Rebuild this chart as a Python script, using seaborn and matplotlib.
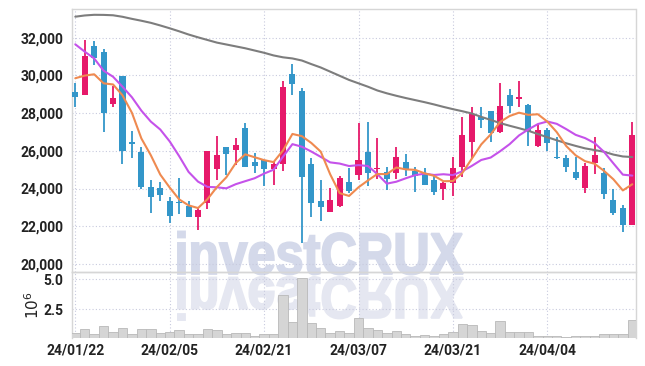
import numpy as np
import pandas as pd
import matplotlib
matplotlib.use("Agg")
import matplotlib.pyplot as plt
import seaborn as sns
from matplotlib.textpath import TextPath
from matplotlib.patches import PathPatch
from matplotlib.font_manager import FontProperties, fontManager
from matplotlib.transforms import Affine2D

# ---------------- data ----------------
dates = ["24/01/22", "24/01/23", "24/01/24", "24/01/25", "24/01/26", "24/01/29", "24/01/30", "24/01/31", "24/02/01", "24/02/02",
         "24/02/05", "24/02/06", "24/02/07", "24/02/08", "24/02/13", "24/02/14", "24/02/15", "24/02/16", "24/02/19", "24/02/20",
         "24/02/21", "24/02/22", "24/02/23", "24/02/26", "24/02/27", "24/02/28", "24/02/29", "24/03/04", "24/03/05", "24/03/06",
         "24/03/07", "24/03/08", "24/03/11", "24/03/12", "24/03/13", "24/03/14", "24/03/15", "24/03/18", "24/03/19", "24/03/20",
         "24/03/21", "24/03/22", "24/03/25", "24/03/26", "24/03/27", "24/03/28", "24/03/29", "24/04/01", "24/04/02", "24/04/03",
         "24/04/04", "24/04/05", "24/04/08", "24/04/09", "24/04/11", "24/04/12", "24/04/15", "24/04/16", "24/04/17", "24/04/18"]

opens = [29100, 28960, 31560, 31250, 28500, 29970, 26400, 25920, 24060, 24010,
         23340, 23260, 23070, 22510, 23220, 25020, 26200, 26040, 27210, 25390,
         25510, 25020, 25280, 30070, 29170, 25300, 23340, 22740, 23090, 24330,
         24720, 25920, 25020, 24860, 24810, 25410, 24930, 24810, 24450, 23970,
         24310, 25120, 26490, 27810, 28110, 26980, 28960, 28730, 28430, 26270,
         27100, 25630, 25600, 24860, 24050, 25370, 24810, 23390, 22990, 22080]
highs = [29580, 31900, 31850, 31380, 29440, 29970, 27070, 26180, 24450, 24360,
         23570, 24540, 23360, 23040, 26000, 26790, 26210, 26660, 27490, 25900,
         25520, 25420, 29720, 30590, 29310, 25600, 24450, 24010, 24680, 25070,
         27490, 27510, 26660, 25160, 26190, 25810, 25160, 25110, 24720, 24360,
         25690, 27780, 28340, 28340, 28120, 29580, 29260, 29720, 28480, 27400,
         27190, 26710, 25780, 25650, 25330, 26750, 25070, 23960, 23130, 27510]
lows = [28300, 28950, 30550, 27020, 28300, 25300, 25600, 23960, 22720, 23350,
        22150, 22650, 22500, 21800, 22900, 24450, 24720, 25250, 25150, 24800,
        24150, 24190, 24930, 28960, 21090, 22470, 22300, 22730, 23040, 23750,
        24450, 24150, 24490, 23920, 24490, 24660, 23800, 24180, 23660, 23390,
        23600, 24590, 25600, 27190, 26490, 26950, 28020, 28310, 26260, 26220,
        26010, 25590, 24890, 24450, 23780, 24750, 23430, 22600, 21710, 22070]
closes = [28870, 31030, 30900, 28020, 28780, 26000, 26380, 24100, 23570, 23650,
          22560, 23240, 22510, 22860, 25990, 25780, 25830, 26310, 25160, 25210,
          25020, 25300, 29400, 29540, 24630, 23210, 23000, 23390, 24540, 23890,
          25510, 24810, 25110, 24490, 25650, 25020, 24680, 24190, 23830, 24280,
          25070, 26840, 27950, 27630, 26930, 28380, 28400, 28840, 27050, 27100,
          26430, 25600, 25160, 24580, 25200, 25780, 23710, 22720, 22080, 26840]

ma5 = [29850, 29990, 30060, 29580, 29520, 28946, 28016, 26656, 25766, 24740,
       24052, 23424, 23106, 22964, 23432, 24076, 24594, 25354, 25814, 25658,
       25506, 25400, 26018, 26894, 26778, 26416, 25956, 24754, 23754, 23606,
       24066, 24428, 24772, 24762, 25114, 25016, 24990, 24806, 24674, 24386,
       24396, 24828, 25580, 26340, 26870, 27532, 27844, 28022, 27906, 27940,
       27550, 26990, 26254, 25760, 25448, 25316, 24938, 24488, 23898, 24226]
ma10 = [31650, 31260, 30900, 30250, 29930, 29400, 28840, 28130, 27550, 27130,
        26499, 25720, 24881, 24365, 24086, 24064, 24009, 24230, 24389, 24545,
        24791, 24997, 25686, 26354, 26218, 25961, 25678, 25386, 25324, 25192,
        25241, 25192, 24763, 24258, 24360, 24541, 24709, 24789, 24718, 24757,
        24713, 24916, 25200, 25514, 25642, 25978, 26350, 26815, 27137, 27419,
        27555, 27431, 27152, 26847, 26674, 26414, 25945, 25333, 24736, 24684]
ma60 = [33115, 33180, 33215, 33210, 33190, 33110, 33000, 32900, 32790, 32650,
        32500, 32340, 32170, 32020, 31880, 31740, 31640, 31540, 31440, 31320,
        31200, 31060, 30960, 30900, 30790, 30600, 30420, 30200, 29980, 29760,
        29580, 29400, 29200, 29050, 28920, 28800, 28690, 28580, 28460, 28330,
        28210, 28100, 27980, 27800, 27640, 27470, 27330, 27200, 27060, 26890,
        26720, 26560, 26400, 26260, 26130, 26040, 25950, 25800, 25700, 25670]

volume_m = [0.54, 0.93, 0.46, 1.18, 0.62, 1.01, 0.46, 0.93, 0.93, 0.54,
            0.62, 0.85, 0.46, 0.46, 0.93, 0.79, 0.46, 0.54, 0.54, 0.30,
            0.46, 0.46, 3.68, 1.45, 5.08, 1.37, 1.01, 0.57, 0.71, 0.54,
            1.76, 1.01, 0.79, 0.57, 0.71, 0.46, 0.35, 0.41, 0.35, 0.46,
            0.62, 1.34, 1.26, 0.71, 0.54, 1.59, 0.62, 0.62, 0.62, 0.35,
            0.35, 0.35, 0.24, 0.35, 0.35, 0.35, 0.46, 0.46, 0.46, 1.67]

price_ticks = [20000, 22000, 24000, 26000, 28000, 30000, 32000]
volume_ticks = [2.5, 5.0]

# ---------------- style ----------------
sns.set_theme(style="white")
available = {f.name for f in fontManager.ttflist}
if "Liberation Sans Narrow" in available:
    TICK_FONT = "Liberation Sans Narrow"
    TICK_SIZE = 11.5
else:
    TICK_FONT = "Roboto"
    TICK_SIZE = 10
plt.rcParams["font.family"] = [TICK_FONT, "DejaVu Sans"]

UP = "#e6196a"
DOWN = "#3396c9"
GRID = "#c8cade"
SPINE = "#d6d6d6"
TXT = "#222222"

df = pd.DataFrame({"date": dates, "open": opens, "high": highs, "low": lows,
                   "close": closes, "ma5": ma5, "ma10": ma10, "ma60": ma60,
                   "vol": volume_m})
df["i"] = np.arange(len(df))

W, H = 645, 366
fig = plt.figure(figsize=(W / 100, H / 100), dpi=100)
fig.patch.set_facecolor("white")

def fx(px):
    return px / W

def fy(py):
    return 1 - py / H

ax = fig.add_axes([fx(71.7), fy(272.3), fx(635.5) - fx(71.7), fy(9.3) - fy(272.3)])
axv = fig.add_axes([fx(71.7), fy(337.5), fx(635.5) - fx(71.7), fy(272.3) - fy(337.5)], sharex=ax)
for a in (ax, axv):
    a.set_facecolor("none")

# ---------------- watermark ----------------
fp = FontProperties(family="Liberation Sans", weight="bold")
tp = TextPath((0, 0), "investCRUX", size=100, prop=fp)
ext = tp.get_extents()

def watermark(x0, x1, top, bottom, flip, color):
    y0 = H - bottom
    y1 = H - top
    sx = (x1 - x0) / ext.width
    sy = (y1 - y0) / ext.height
    if flip:
        tr = Affine2D().translate(-ext.x0, -ext.y0).scale(sx, -sy).translate(x0, y1)
    else:
        tr = Affine2D().translate(-ext.x0, -ext.y0).scale(sx, sy).translate(x0, y0)
    path = tr.transform_path(tp)
    patch = PathPatch(path, facecolor=color, edgecolor=color, linewidth=1.4,
                      transform=Affine2D().scale(1 / W, 1 / H) + fig.transFigure,
                      zorder=-1)
    fig.add_artist(patch)

watermark(178, 463, 231.5, 274.5, False, "#d4d9ea")
watermark(178, 463, 277, 320, True, "#e5e7f1")

# ---------------- candles ----------------
up = df["close"] >= df["open"]
colors = np.where(up, UP, DOWN)
body_lo = np.minimum(df["open"], df["close"])
body_h = np.maximum(np.abs(df["close"] - df["open"]), 70)
ax.vlines(df["i"], df["low"], df["high"], colors=colors, linewidth=1.3, zorder=3)
ax.bar(df["i"], body_h, bottom=body_lo, width=0.64, color=colors, linewidth=0, zorder=4)

sns.lineplot(data=df, x="i", y="ma60", ax=ax, color="#7d7d7d", linewidth=1.5, zorder=5)
sns.lineplot(data=df, x="i", y="ma10", ax=ax, color="#c552ea", linewidth=1.5, zorder=6)
sns.lineplot(data=df, x="i", y="ma5", ax=ax, color="#ef8a50", linewidth=1.5, zorder=7)

ax.set_ylim(19555, 33507)
ax.set_yticks(price_ticks)
ax.set_yticklabels([f"{v:,}" for v in price_ticks])
ax.set_xlabel("")
ax.set_ylabel("")

# ---------------- volume ----------------
sns.barplot(data=df, x="i", y="vol", ax=axv, color="#d5d5d5", width=1.0,
            edgecolor="#b9b9b9", linewidth=0.6, native_scale=True, saturation=1,
            zorder=3)
axv.set_ylim(0.2, 5.55)
axv.set_yticks(volume_ticks)
axv.set_yticklabels([f"{v:.1f}" for v in volume_ticks])
axv.set_xlabel("")
axv.set_ylabel(r"$10^{6}$", fontsize=11, color=TXT, labelpad=1)

xt = list(range(0, len(dates), 10))
axv.set_xticks(xt)
axv.set_xticklabels([dates[k] for k in xt])
ax.set_xlim(-0.38, 59.34)

for a in (ax, axv):
    a.grid(True, color=GRID, linestyle=(0, (1, 2)), linewidth=0.8, zorder=0)
    a.set_axisbelow(True)
    a.tick_params(length=0, colors=TXT, labelsize=TICK_SIZE, pad=6)
    for lbl in a.get_xticklabels() + a.get_yticklabels():
        lbl.set_fontweight("bold")
    for s in a.spines.values():
        s.set_color(SPINE)
        s.set_linewidth(1)
plt.setp(ax.get_xticklabels(), visible=False)
axv.spines["bottom"].set_visible(False)
axv.tick_params(axis="x", pad=4)

fig.savefig("out.png", dpi=100, facecolor="white")
